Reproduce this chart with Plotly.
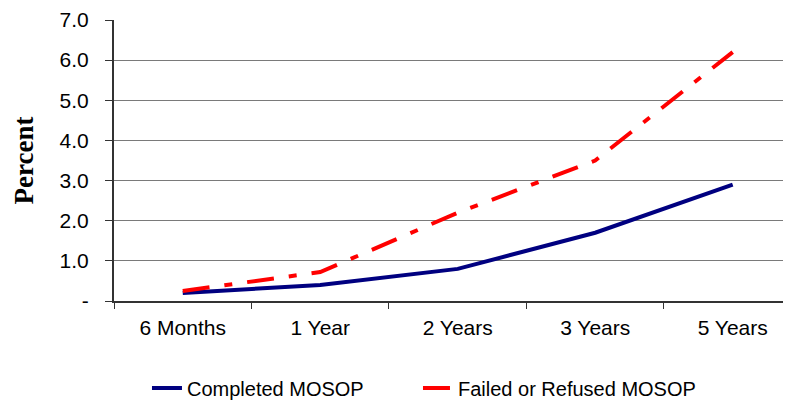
import plotly.graph_objects as go

categories = ["6 Months", "1 Year", "2 Years", "3 Years", "5 Years"]
completed = [0.2, 0.4, 0.8, 1.7, 2.9]
failed = [0.25, 0.72, 2.2, 3.5, 6.2]
ytick_vals = [0, 1, 2, 3, 4, 5, 6, 7]
ytick_text = ["-", "1.0", "2.0", "3.0", "4.0", "5.0", "6.0", "7.0"]

font_sans = "Arial, Liberation Sans, sans-serif"

fig = go.Figure()
fig.add_trace(go.Scatter(
    x=categories, y=completed, mode="lines", name="Completed MOSOP",
    line=dict(color="#000080", width=4), legend="legend",
))
fig.add_trace(go.Scatter(
    x=categories, y=failed, mode="lines", name="Failed or Refused MOSOP",
    line=dict(color="#FF0000", width=4, dash="27px,15px,8px,15px"), legend="legend2",
))

legend_common = dict(orientation="h", xref="container", yref="container",
                     xanchor="left", yanchor="middle", y=0.0355,
                     font=dict(size=20), itemwidth=30, bgcolor="rgba(0,0,0,0)")

# page body adds an 8px offset, so the figure is sized to fit the 791x402 window
fig.update_layout(
    width=783, height=394,
    margin=dict(l=106, r=0, t=12, b=101),
    paper_bgcolor="white", plot_bgcolor="white",
    font=dict(family=font_sans, size=20, color="black"),
    showlegend=True,
    legend=dict(x=0.1775, **legend_common),
    legend2=dict(x=0.5236, **legend_common),
    xaxis=dict(
        type="category", range=[-0.5, 4.424], automargin=False,
        showline=True, linecolor="#333333", linewidth=2,
        ticks="outside", tickson="boundaries", ticklen=6, tickcolor="#333333",
        showgrid=False, tickfont=dict(size=21), zeroline=False,
        ticklabelstandoff=7,
    ),
    yaxis=dict(
        range=[0, 7], tickvals=ytick_vals, ticktext=ytick_text, automargin=False,
        showline=True, linecolor="#333333", linewidth=2,
        ticks="outside", ticklen=7, tickcolor="#333333",
        showgrid=True, gridcolor="#7a7a7a", gridwidth=1,
        zeroline=False, tickfont=dict(size=21), ticklabelstandoff=12,
        title=dict(text="<b>Percent</b>", standoff=18,
                   font=dict(family="Times New Roman, Liberation Serif, serif", size=27)),
    ),
)

fig.write_html("out.html")
